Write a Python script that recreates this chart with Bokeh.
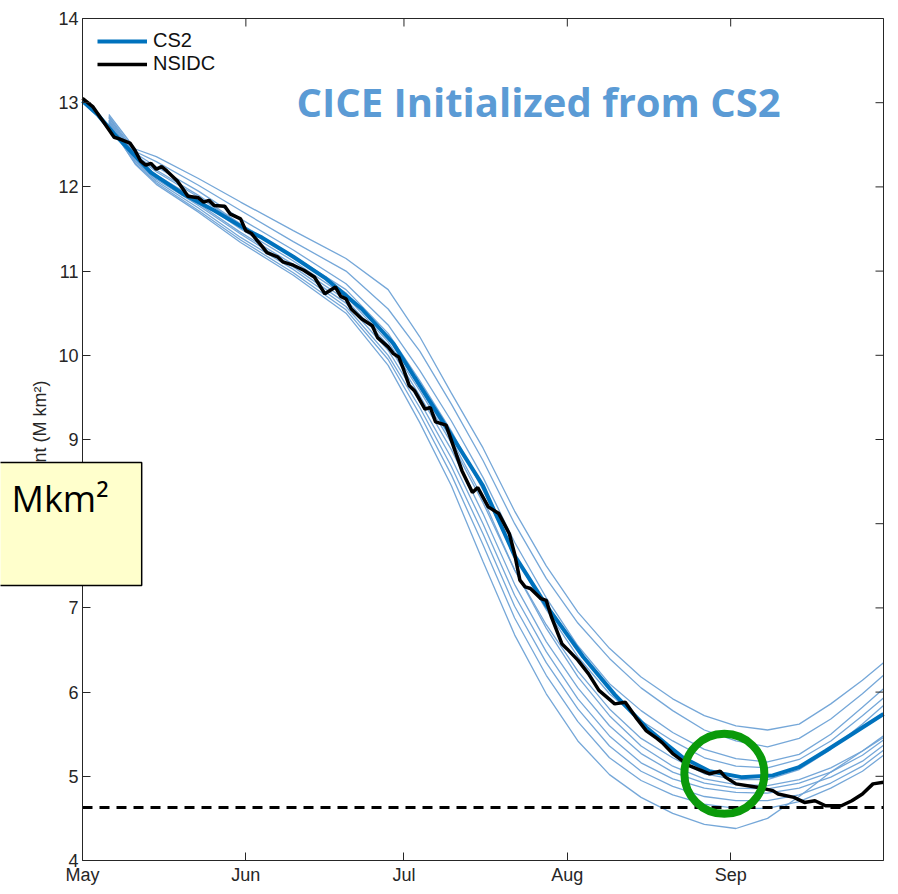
import math

from bokeh.plotting import figure
from bokeh.models import Label, FixedTicker, LinearAxis, Legend, LegendItem
from bokeh.embed import file_html
from bokeh.resources import INLINE

# ---- data -------------------------------------------------------------
# x axis: days since 1 May
month_ticks = [0, 31, 61, 92, 123]
month_labels = ["May", "Jun", "Jul", "Aug", "Sep"]
extent_ticks = [4, 5, 6, 7, 8, 9, 10, 11, 12, 13, 14]

# NSIDC observed sea ice extent (M km^2)
nsidc_day = [0, 2, 4, 6, 7, 9, 10, 11, 12, 13, 14, 15, 16, 18, 19, 20, 22, 23, 24,
             25, 27, 28, 30, 31, 32, 34, 35, 37, 38, 40, 42, 44, 46, 48, 49, 50, 51,
             53, 55, 56, 58, 59, 60, 61, 62, 63, 65, 66, 67, 69, 70, 72, 74, 75, 77,
             79, 81, 82, 83, 84, 85, 87, 88, 89, 91, 92, 94, 96, 98, 101, 103, 105,
             107, 109, 110, 112, 115, 119, 121, 122, 124, 128, 131, 132, 135, 137,
             139, 141, 144, 146, 148, 150, 152]
nsidc_extent = [13.05, 12.95, 12.77, 12.59, 12.57, 12.52, 12.43, 12.31, 12.26, 12.28,
                12.21, 12.24, 12.19, 12.07, 11.98, 11.89, 11.87, 11.82, 11.84, 11.78,
                11.77, 11.68, 11.62, 11.48, 11.45, 11.30, 11.22, 11.17, 11.11, 11.07,
                11.01, 10.93, 10.73, 10.81, 10.70, 10.67, 10.55, 10.43, 10.35, 10.21,
                10.10, 10.02, 9.98, 9.82, 9.64, 9.58, 9.36, 9.38, 9.21, 9.17, 8.99,
                8.63, 8.37, 8.43, 8.20, 8.12, 7.88, 7.64, 7.33, 7.25, 7.23, 7.11, 7.09,
                6.89, 6.57, 6.51, 6.38, 6.22, 6.02, 5.86, 5.88, 5.70, 5.54, 5.45, 5.40,
                5.27, 5.13, 5.03, 5.06, 4.99, 4.91, 4.87, 4.83, 4.79, 4.75, 4.69, 4.71,
                4.65, 4.65, 4.71, 4.79, 4.91, 4.93]

# CICE ensemble mean initialised from CryoSat-2 thickness
cs2_day = [0, 3, 6, 13, 19, 25, 32, 34, 40, 46, 53, 59, 63, 69, 76, 82, 88, 95,
           101, 107, 111, 114, 119, 125, 131, 136, 141, 146, 152]
cs2_extent = [13.02, 12.85, 12.63, 12.17, 11.92, 11.72, 11.46, 11.40, 11.17, 10.92,
              10.55, 10.14, 9.74, 9.15, 8.45, 7.62, 7.03, 6.42, 5.97, 5.58, 5.37,
              5.22, 5.06, 4.99, 5.01, 5.11, 5.30, 5.50, 5.74]

# individual ensemble members
member_day = [5, 10, 14, 22, 30, 40, 50, 58, 64, 70, 76, 82, 88, 94, 100, 106, 112,
              118, 124, 130, 136, 142, 148, 152]
member_1 = [12.86, 12.45, 12.36, 12.10, 11.82, 11.48, 11.15, 10.78, 10.22, 9.55, 8.90,
            8.15, 7.50, 6.95, 6.52, 6.18, 5.92, 5.72, 5.60, 5.55, 5.62, 5.86, 6.14, 6.35]
member_2 = [12.84, 12.42, 12.30, 12.02, 11.72, 11.35, 11.00, 10.55, 10.05, 9.42, 8.75,
            8.00, 7.35, 6.82, 6.40, 6.05, 5.78, 5.55, 5.42, 5.35, 5.45, 5.68, 5.98, 6.20]
member_3 = [12.82, 12.40, 12.24, 11.95, 11.62, 11.25, 10.85, 10.36, 9.82, 9.22, 8.55,
            7.78, 7.12, 6.55, 6.10, 5.78, 5.52, 5.32, 5.21, 5.17, 5.26, 5.50, 5.82, 6.04]
member_4 = [12.80, 12.38, 12.20, 11.90, 11.56, 11.18, 10.78, 10.26, 9.70, 9.10, 8.40,
            7.62, 6.98, 6.42, 5.98, 5.66, 5.42, 5.22, 5.12, 5.10, 5.20, 5.42, 5.72, 5.93]
member_5 = [12.78, 12.35, 12.14, 11.84, 11.50, 11.12, 10.70, 10.16, 9.58, 8.96, 8.25,
            7.45, 6.80, 6.25, 5.80, 5.45, 5.22, 5.03, 4.96, 4.96, 5.08, 5.32, 5.62, 5.84]
member_6 = [12.83, 12.37, 12.18, 11.88, 11.55, 11.16, 10.74, 10.20, 9.62, 9.00, 8.30,
            7.45, 6.76, 6.18, 5.72, 5.36, 5.12, 4.97, 4.90, 4.89, 4.96, 5.10, 5.30, 5.48]
member_7 = [12.79, 12.33, 12.11, 11.80, 11.46, 11.08, 10.66, 10.12, 9.52, 8.88, 8.12,
            7.28, 6.60, 6.05, 5.60, 5.27, 5.05, 4.92, 4.86, 4.85, 4.92, 5.05, 5.25, 5.43]
member_8 = [12.76, 12.31, 12.09, 11.78, 11.44, 11.05, 10.62, 10.06, 9.45, 8.78, 8.00,
            7.15, 6.48, 5.92, 5.48, 5.16, 4.97, 4.86, 4.81, 4.80, 4.86, 4.99, 5.18, 5.37]
member_9 = [12.77, 12.30, 12.07, 11.75, 11.40, 11.02, 10.58, 10.00, 9.38, 8.68, 7.88,
            7.02, 6.35, 5.80, 5.36, 5.06, 4.88, 4.76, 4.71, 4.71, 4.78, 4.92, 5.12, 5.31]
member_10 = [12.74, 12.28, 12.05, 11.72, 11.37, 10.98, 10.54, 9.95, 9.30, 8.58, 7.75,
             6.88, 6.20, 5.65, 5.22, 4.95, 4.78, 4.67, 4.62, 4.62, 4.70, 4.86, 5.06, 5.25]
member_11 = [12.75, 12.27, 12.03, 11.70, 11.34, 10.95, 10.50, 9.88, 9.20, 8.45, 7.55,
             6.68, 5.98, 5.42, 5.02, 4.75, 4.56, 4.43, 4.38, 4.50, 4.76, 5.05, 5.30, 5.46]
members = [member_1, member_2, member_3, member_4, member_5, member_6,
           member_7, member_8, member_9, member_10, member_11]

record_extent = 4.63          # dashed reference level
circle_day = 121.8            # highlighted September minimum
circle_extent = 5.03

# ---- layout -----------------------------------------------------------
W, H = 898, 894
pad_left, pad_right, pad_top, pad_bottom = 82, 15, 18, 34   # axes box inside the page
x_start, x_end = month_ticks[0], 152
y_start, y_end = extent_ticks[0], extent_ticks[-1]

# The frame fills the whole page so the unit box may overlap the y axis;
# every axis is pinned to the edge of the data box with fixed_location.
px_day = (W - pad_left - pad_right) / (x_end - x_start)
px_unit = (H - pad_top - pad_bottom) / (y_end - y_start)
x_lo, x_hi = x_start - pad_left / px_day, x_end + pad_right / px_day
y_lo, y_hi = y_start - pad_bottom / px_unit, y_end + pad_top / px_unit

p = figure(width=W, height=H, x_range=(x_lo, x_hi), y_range=(y_lo, y_hi),
           output_backend="svg", toolbar_location=None,
           min_border_left=0, min_border_right=0,
           min_border_top=0, min_border_bottom=0)
p.grid.visible = False
p.outline_line_color = None
p.background_fill_color = "white"
p.border_fill_color = "white"

axis_font = "Liberation Sans"
axis_color = "#262626"

xax = p.xaxis[0]
xax.fixed_location = y_start
xax.bounds = (x_start, x_end)
xax.ticker = FixedTicker(ticks=month_ticks)
xax.major_label_overrides = {t: lab for t, lab in zip(month_ticks, month_labels)}

yax = p.yaxis[0]
yax.fixed_location = x_start
yax.bounds = (y_start, y_end)
yax.ticker = FixedTicker(ticks=extent_ticks)
yax.axis_label = "Extent (M km²)"
yax.axis_label_text_font = axis_font
yax.axis_label_text_font_style = "normal"
yax.axis_label_text_font_size = "18px"
yax.axis_label_text_color = axis_color
yax.axis_label_standoff = 5

for ax in (xax, yax):
    ax.major_tick_in = 8
    ax.major_tick_out = 0
    ax.minor_tick_line_color = None
    ax.axis_line_color = axis_color
    ax.major_tick_line_color = axis_color
    ax.major_label_text_font = axis_font
    ax.major_label_text_font_size = "18px"
    ax.major_label_text_color = axis_color
    ax.major_label_standoff = 4

# top and right edges of the box (lines only; tick marks drawn below)
top_ax = LinearAxis(ticker=FixedTicker(ticks=[]), fixed_location=y_end,
                    bounds=(x_start, x_end))
right_ax = LinearAxis(ticker=FixedTicker(ticks=[]), fixed_location=x_end,
                      bounds=(y_start, y_end))
for ax in (top_ax, right_ax):
    ax.major_tick_in = 0
    ax.major_tick_out = 0
    ax.minor_tick_line_color = None
    ax.axis_line_color = axis_color
p.add_layout(top_ax, "above")
p.add_layout(right_ax, "right")

# mirrored inward tick marks along the top and right edges
p.ray(x=month_ticks, y=[y_end] * len(month_ticks), length=8, length_units="screen",
      angle=-math.pi / 2, line_color=axis_color, line_width=1, level="overlay")
p.ray(x=[x_end] * len(extent_ticks), y=extent_ticks, length=8, length_units="screen",
      angle=math.pi, line_color=axis_color, line_width=1, level="overlay")

# ensemble members
for m in members:
    p.line(member_day, m, line_color="#6ea2d6", line_width=1.3, line_alpha=0.95)

cs2_line = p.line(cs2_day, cs2_extent, line_color="#0072bd", line_width=4)

# dashed reference level across the season
p.line([x_start, x_end], [record_extent, record_extent], line_color="black",
       line_width=3, line_dash="10 7")

nsidc_line = p.line(nsidc_day, nsidc_extent, line_color="black", line_width=3.5)

p.scatter([circle_day], [circle_extent], marker="circle", size=80,
          fill_color=None, line_color="#0a9a0a", line_width=8)

legend = Legend(items=[LegendItem(label="CS2", renderers=[cs2_line]),
                       LegendItem(label="NSIDC", renderers=[nsidc_line])],
                location=(pad_left + 15, H - 27 - 48), margin=0, padding=0, spacing=0,
                glyph_width=50, glyph_height=20, label_height=20,
                label_standoff=6, border_line_alpha=0, background_fill_alpha=0,
                label_text_font=axis_font, label_text_font_size="20px",
                label_text_color="#111111")
p.add_layout(legend)

p.add_layout(Label(x=40.6, y=13.34, text="CICE Initialized from CS2", anchor="top_left",
                   text_font="Open Sans", text_font_style="bold",
                   text_font_size="40px", text_color="#5b9bd5"))

# unit call-out box, overlapping the y axis
p.add_layout(Label(x=-16.5, y=8.727, text="Mkm²", anchor="top_left",
                   text_font="Open Sans", text_font_size="36px",
                   text_color="black",
                   background_fill_color="#ffffcc", border_line_color="black",
                   border_line_width=1.5,
                   padding=dict(left=16, right=33, top=12, bottom=62)))

open("out.html", "w").write(file_html(p, INLINE))
